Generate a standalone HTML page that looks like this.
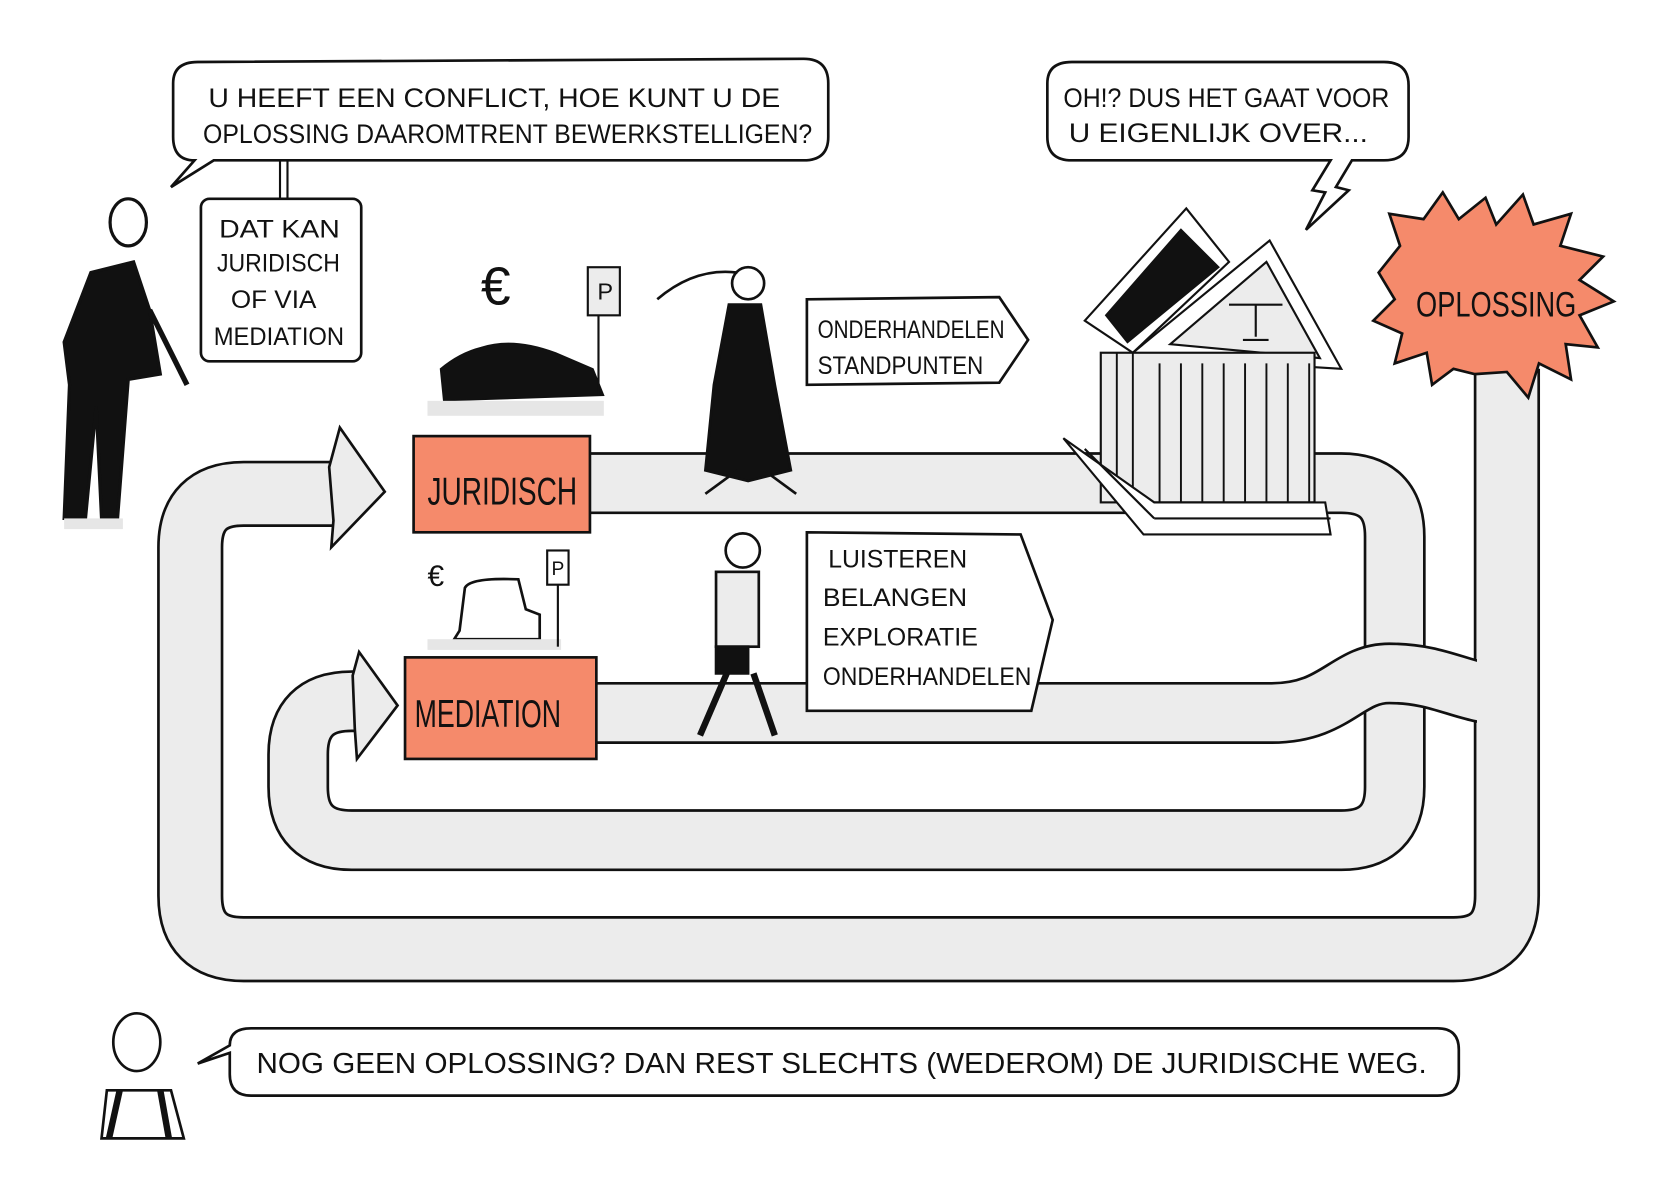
<!DOCTYPE html>
<html><head><meta charset="utf-8"><style>
html,body{margin:0;padding:0;background:#fff;}
svg{display:block;}
text{font-family:"Liberation Sans",sans-serif;fill:#111;}
</style></head><body>
<svg width="1664" height="1179" viewBox="0 0 1557 1103" preserveAspectRatio="none" xmlns="http://www.w3.org/2000/svg">
<rect width="1557" height="1103" fill="#fff"/>
<g fill="none" stroke-linejoin="round">
<!-- outer loop -->
<path d="M315 462 L228 462 Q178 462 178 512 L178 838 Q178 888 228 888 L1360 888 Q1410 888 1410 838 L1410 345" stroke="#111" stroke-width="62"/>
<path d="M315 462 L228 462 Q178 462 178 512 L178 838 Q178 888 228 888 L1360 888 Q1410 888 1410 838 L1410 345" stroke="#ececec" stroke-width="57"/>
<!-- juridisch / mediation loop -->
<path d="M552 452 L1255 452 Q1305 452 1305 502 L1305 736 Q1305 786 1255 786 L329 786 Q279 786 279 736 L279 706 Q279 656 329 656 L335 656" stroke="#111" stroke-width="58"/>
<path d="M552 452 L1255 452 Q1305 452 1305 502 L1305 736 Q1305 786 1255 786 L329 786 Q279 786 279 736 L279 706 Q279 656 329 656 L335 656" stroke="#ececec" stroke-width="53"/>
<!-- mediation out lane -->
<path d="M558 667 L1190 667 C1250 667 1260 630 1300 630 C1350 630 1370 650 1410 650" stroke="#111" stroke-width="58"/>
<path d="M558 667 L1190 667 C1250 667 1260 630 1300 630 C1350 630 1370 650 1410 650" stroke="#ececec" stroke-width="53"/>
</g>
<rect x="1382" y="600" width="55" height="90" fill="#ececec"/>
<!-- arrowheads -->
<polygon points="308,437 318,400 360,460 310,512 312,487" fill="#ececec" stroke="#111" stroke-width="2.5"/>
<polygon points="330,632 336,610 372,660 334,710 332,682" fill="#ececec" stroke="#111" stroke-width="2.5"/>
<!-- speech bubble top -->
<path d="M182 150 Q162 150 162 128 L162 78 Q162 58 185 58 L752 55 Q775 55 775 78 L775 128 Q775 150 752 150 L200 150 L160 175 Z" fill="#fff" stroke="#111" stroke-width="2.5"/>
<text x="195" y="100" font-size="25" textLength="535" lengthAdjust="spacingAndGlyphs">U HEEFT EEN CONFLICT, HOE KUNT U DE</text>
<text x="190" y="134" font-size="25" textLength="570" lengthAdjust="spacingAndGlyphs">OPLOSSING DAAROMTRENT BEWERKSTELLIGEN?</text>
<line x1="262" y1="150" x2="262" y2="186" stroke="#111" stroke-width="2"/>
<line x1="269" y1="150" x2="269" y2="186" stroke="#111" stroke-width="2"/>
<!-- Dat kan box -->
<rect x="188" y="186" width="150" height="152" rx="8" fill="#fff" stroke="#111" stroke-width="2.5"/>
<text x="205" y="222" font-size="23" textLength="113" lengthAdjust="spacingAndGlyphs">DAT KAN</text>
<text x="203" y="254" font-size="23" textLength="115" lengthAdjust="spacingAndGlyphs">JURIDISCH</text>
<text x="216" y="288" font-size="23" textLength="80" lengthAdjust="spacingAndGlyphs">OF VIA</text>
<text x="200" y="323" font-size="23" textLength="122" lengthAdjust="spacingAndGlyphs">MEDIATION</text>
<!-- right bubble -->
<path d="M1003 150 Q980 150 980 128 L980 78 Q980 58 1003 58 L1295 58 Q1318 58 1318 80 L1318 128 Q1318 150 1295 150 L1265 150 L1250 175 L1262 178 L1222 215 L1240 180 L1228 178 L1245 150 Z" fill="#fff" stroke="#111" stroke-width="2.5"/>
<text x="995" y="100" font-size="25" textLength="305" lengthAdjust="spacingAndGlyphs">OH!? DUS HET GAAT VOOR</text>
<text x="1000" y="133" font-size="25" textLength="280" lengthAdjust="spacingAndGlyphs">U EIGENLIJK OVER...</text>
<!-- Juridisch / Mediation boxes -->
<rect x="387" y="408" width="165" height="90" fill="#f58a6b" stroke="#111" stroke-width="2.5"/>
<text x="400" y="472" font-size="36" textLength="140" lengthAdjust="spacingAndGlyphs">JURIDISCH</text>
<rect x="379" y="615" width="179" height="95" fill="#f58a6b" stroke="#111" stroke-width="2.5"/>
<text x="388" y="680" font-size="36" textLength="137" lengthAdjust="spacingAndGlyphs">MEDIATION</text>
<!-- onderhandelen arrow box -->
<path d="M755 280 L935 278 L962 318 L935 358 L755 360 Z" fill="#fff" stroke="#111" stroke-width="2.5"/>
<text x="765" y="316" font-size="23" textLength="175" lengthAdjust="spacingAndGlyphs">ONDERHANDELEN</text>
<text x="765" y="350" font-size="23" textLength="155" lengthAdjust="spacingAndGlyphs">STANDPUNTEN</text>
<!-- luisteren box -->
<path d="M755 498 L955 500 L985 580 L965 665 L755 665 Z" fill="#fff" stroke="#111" stroke-width="2.5"/>
<text x="775" y="531" font-size="23" textLength="130" lengthAdjust="spacingAndGlyphs">LUISTEREN</text>
<text x="770" y="567" font-size="23" textLength="135" lengthAdjust="spacingAndGlyphs">BELANGEN</text>
<text x="770" y="604" font-size="23" textLength="145" lengthAdjust="spacingAndGlyphs">EXPLORATIE</text>
<text x="770" y="641" font-size="23" textLength="195" lengthAdjust="spacingAndGlyphs">ONDERHANDELEN</text>
<!-- oplossing star -->
<polygon fill="#f58a6b" stroke="#111" stroke-width="2.5" points="1290,255 1310,230 1300,200 1332,205 1350,180 1365,205 1390,185 1400,210 1425,182 1435,210 1470,200 1460,230 1500,240 1478,262 1510,282 1478,295 1495,325 1465,322 1470,355 1440,340 1430,372 1410,348 1380,350 1360,345 1340,360 1335,330 1305,340 1312,312 1285,300 1305,280"/>
<text x="1325" y="296" font-size="33" textLength="150" lengthAdjust="spacingAndGlyphs">OPLOSSING</text>
<!-- courthouse -->
<g stroke="#111" stroke-width="2" fill="#fff">
<polygon points="1015,300 1110,195 1150,245 1060,330"/>
<polygon points="1035,295 1105,215 1140,250 1055,320" fill="#111"/>
<polygon points="1060,330 1188,225 1255,345 1090,335" fill="#fff"/>
<polygon points="1095,322 1185,245 1235,335" fill="#ececec"/>
<rect x="1030" y="330" width="200" height="140" fill="#ececec"/>
<g stroke-width="1.8">
<line x1="1045" y1="330" x2="1045" y2="470"/><line x1="1060" y1="330" x2="1060" y2="470"/>
<line x1="1085" y1="340" x2="1085" y2="470"/><line x1="1105" y1="340" x2="1105" y2="470"/>
<line x1="1125" y1="340" x2="1125" y2="470"/><line x1="1145" y1="340" x2="1145" y2="470"/>
<line x1="1165" y1="340" x2="1165" y2="470"/><line x1="1185" y1="340" x2="1185" y2="470"/>
<line x1="1205" y1="340" x2="1205" y2="470"/><line x1="1225" y1="340" x2="1225" y2="470"/>
</g>
<polygon points="995,410 1080,470 1240,470 1245,500 1070,500"/>
<line x1="1015" y1="420" x2="1080" y2="485"/>
<line x1="1080" y1="485" x2="1245" y2="485"/>
<path d="M1150 285 L1200 285 M1175 285 L1175 315 M1163 318 h24" fill="none"/>
</g>
<!-- bottom bubble -->
<path d="M235 1025 Q215 1025 215 1005 L215 985 L185 995 L215 978 Q215 962 235 962 L1345 962 Q1365 962 1365 982 L1365 1005 Q1365 1025 1345 1025 Z" fill="#fff" stroke="#111" stroke-width="2.5"/>
<text x="240" y="1004" font-size="27" textLength="1095" lengthAdjust="spacingAndGlyphs">NOG GEEN OPLOSSING? DAN REST SLECHTS (WEDEROM) DE JURIDISCHE WEG.</text>
<!-- man left -->
<g stroke="#111" stroke-width="3" fill="#111">
<ellipse cx="120" cy="208" rx="17" ry="22" fill="#fff"/>
<polygon points="85,255 125,245 140,290 150,350 120,355 110,485 95,485 90,380 80,485 60,485 65,360 60,320"/>
<path d="M140 290 L175 360" fill="none" stroke-width="5"/>
</g>
<rect x="60" y="485" width="55" height="10" fill="#e6e6e6"/>
<!-- lawyer woman -->
<g stroke="#111" stroke-width="2.5">
<circle cx="700" cy="265" r="15" fill="#fff"/>
<path d="M690 255 Q650 250 615 280" fill="none"/>
<polygon points="682,285 712,285 725,360 740,440 700,450 660,440 668,360" fill="#111"/>
<line x1="690" y1="440" x2="660" y2="462"/><line x1="715" y1="440" x2="745" y2="462"/>
</g>
<!-- mediator woman -->
<g stroke="#111" stroke-width="2.5">
<circle cx="695" cy="515" r="16" fill="#fff"/>
<rect x="670" y="535" width="40" height="70" fill="#ececec"/>
<rect x="670" y="605" width="30" height="25" fill="#111"/>
<line x1="680" y1="630" x2="655" y2="688" stroke-width="6"/><line x1="705" y1="630" x2="725" y2="688" stroke-width="6"/>
</g>
<!-- big car -->
<path d="M412 345 Q430 330 450 325 Q480 315 520 330 L555 345 L565 370 L415 375 Z" fill="#111" stroke="#111"/>
<rect x="400" y="375" width="165" height="14" fill="#e6e6e6"/>
<text x="450" y="285" font-size="50">€</text>
<rect x="550" y="250" width="30" height="45" fill="#ececec" stroke="#111" stroke-width="2"/>
<text x="559" y="280" font-size="22">P</text>
<line x1="560" y1="295" x2="560" y2="370" stroke="#111" stroke-width="2"/>
<!-- small car -->
<path d="M430 590 L435 550 Q440 540 485 542 L492 570 L505 575 L505 598 L425 598 Z" fill="#fff" stroke="#111" stroke-width="2.5"/>
<rect x="400" y="598" width="125" height="10" fill="#e6e6e6"/>
<text x="400" y="548" font-size="28">€</text>
<rect x="512" y="515" width="20" height="32" fill="#fff" stroke="#111" stroke-width="2"/>
<text x="516" y="538" font-size="18">P</text>
<line x1="522" y1="547" x2="522" y2="605" stroke="#111" stroke-width="2"/>
<!-- small man bottom -->
<g stroke="#111" stroke-width="2.5">
<ellipse cx="128" cy="975" rx="22" ry="27" fill="#fff"/>
<polygon points="100,1020 160,1020 172,1065 95,1065" fill="#fff"/>
<line x1="112" y1="1020" x2="102" y2="1065" stroke-width="6"/><line x1="150" y1="1020" x2="158" y2="1065" stroke-width="6"/>
</g>
</svg>
</body></html>
